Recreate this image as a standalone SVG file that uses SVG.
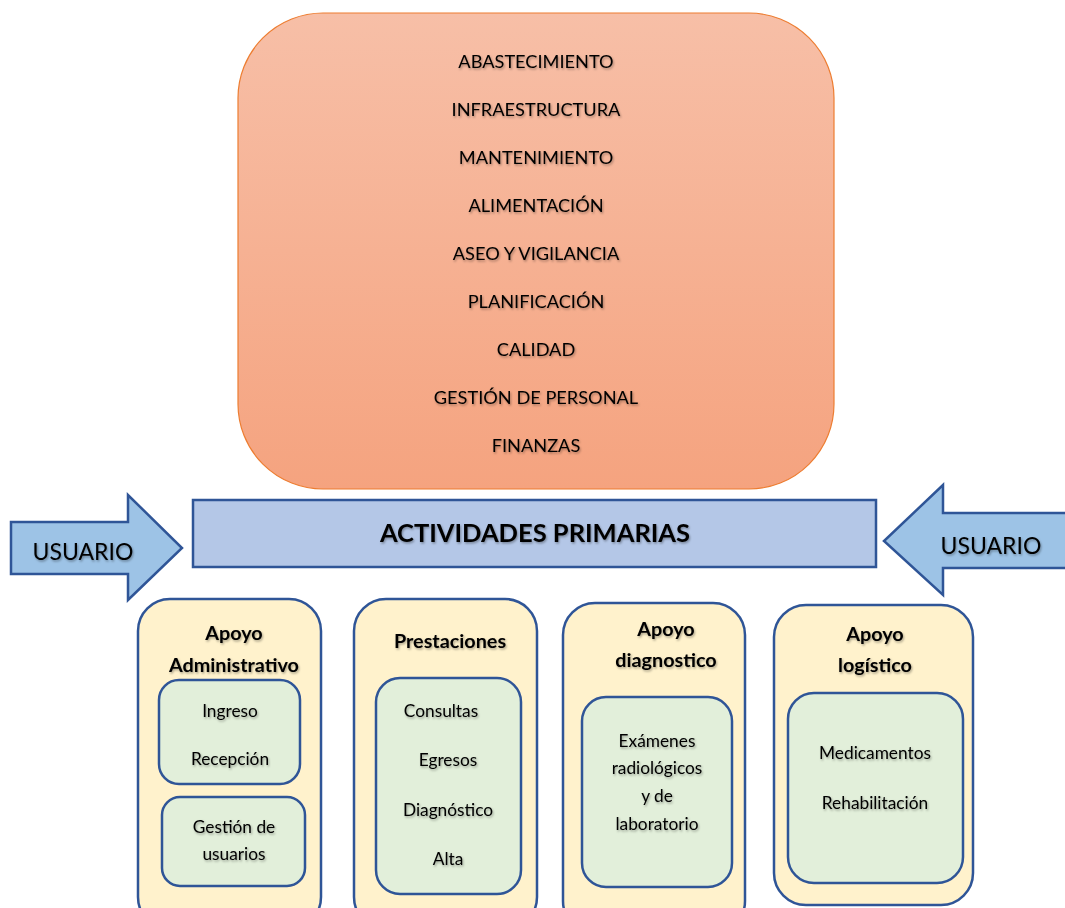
<svg xmlns="http://www.w3.org/2000/svg" width="1065" height="908" viewBox="0 0 1065 908">
<defs>
  <linearGradient id="gTop" x1="0" y1="0" x2="0" y2="1">
    <stop offset="0" stop-color="#f7bfa7"/>
    <stop offset="1" stop-color="#f5a37f"/>
  </linearGradient>
  <filter id="sh" x="-10%" y="-30%" width="120%" height="160%">
    <feDropShadow dx="1" dy="1.5" stdDeviation="0.8" flood-color="#000" flood-opacity="0.35"/>
  </filter>
</defs>
<style>
  text { font-family: Lato, "Liberation Sans", sans-serif; fill: #000; text-anchor: middle; dominant-baseline: central; filter: url(#sh); }
  .top { font-size: 18.2px; }
  .hdr { font-size: 19.8px; font-weight: bold; }
  .it { font-size: 17.3px; }
  .usr { font-size: 23px; }
  .outer { fill: #fff2cc; stroke: #2f5597; stroke-width: 2.5; }
  .inner { fill: #e2efda; stroke: #2f5597; stroke-width: 2.5; }
  .arrow { fill: #9dc3e6; stroke: #2f5597; stroke-width: 2.5; stroke-linejoin: miter; }
</style>

<g id="support-activities">
  <rect x="238" y="13" width="596" height="476" rx="85" ry="85" fill="url(#gTop)" stroke="#ed7d31" stroke-width="1.2"/>
  <text class="top" x="536" y="61">ABASTECIMIENTO</text>
  <text class="top" x="536" y="109">INFRAESTRUCTURA</text>
  <text class="top" x="536" y="157">MANTENIMIENTO</text>
  <text class="top" x="536" y="205">ALIMENTACIÓN</text>
  <text class="top" x="536" y="253">ASEO Y VIGILANCIA</text>
  <text class="top" x="536" y="301">PLANIFICACIÓN</text>
  <text class="top" x="536" y="349">CALIDAD</text>
  <text class="top" x="536" y="397">GESTIÓN DE PERSONAL</text>
  <text class="top" x="536" y="445">FINANZAS</text>
</g>

<g id="primary">
  <rect x="193" y="500" width="683" height="67" fill="#b4c7e7" stroke="#2f5597" stroke-width="2.5"/>
  <text x="535" y="532" font-size="25.5" font-weight="bold">ACTIVIDADES PRIMARIAS</text>
</g>

<g id="connectors">
  <g id="arrow-left">
    <polygon class="arrow" points="11,522 128,522 128,495 182,548 128,600 128,574 11,574"/>
    <text class="usr" x="83" y="551">USUARIO</text>
  </g>
  <g id="arrow-right">
    <polygon class="arrow" points="1070,513 943,513 943,485 884,541 943,595 943,568 1070,568"/>
    <text class="usr" x="991" y="545">USUARIO</text>
  </g>
</g>

<g id="apoyo-administrativo">
  <rect class="outer" x="138" y="599" width="183" height="330" rx="32"/>
  <text class="hdr" x="234" y="632">Apoyo</text>
  <text class="hdr" x="234" y="664">Administrativo</text>
  <rect class="inner" x="159" y="680" width="141" height="104" rx="20"/>
  <text class="it" x="230" y="710">Ingreso</text>
  <text class="it" x="230" y="758">Recepción</text>
  <rect class="inner" x="162" y="797" width="143" height="89" rx="18"/>
  <text class="it" x="234" y="826">Gestión de</text>
  <text class="it" x="234" y="853">usuarios</text>
</g>

<g id="prestaciones">
  <rect class="outer" x="354" y="599" width="183" height="330" rx="32"/>
  <text class="hdr" x="450" y="640">Prestaciones</text>
  <rect class="inner" x="376" y="678" width="145" height="216" rx="24"/>
  <text class="it" x="441" y="710">Consultas</text>
  <text class="it" x="448" y="759">Egresos</text>
  <text class="it" x="448" y="809">Diagnóstico</text>
  <text class="it" x="448" y="858">Alta</text>
</g>

<g id="apoyo-diagnostico">
  <rect class="outer" x="563" y="603" width="182" height="330" rx="32"/>
  <text class="hdr" x="666" y="628">Apoyo</text>
  <text class="hdr" x="666" y="659">diagnostico</text>
  <rect class="inner" x="582" y="697" width="150" height="190" rx="24"/>
  <text class="it" x="657" y="740">Exámenes</text>
  <text class="it" x="657" y="767">radiológicos</text>
  <text class="it" x="657" y="795">y de</text>
  <text class="it" x="657" y="823">laboratorio</text>
</g>

<g id="apoyo-logistico">
  <rect class="outer" x="774" y="605" width="199" height="300" rx="32"/>
  <text class="hdr" x="875" y="633">Apoyo</text>
  <text class="hdr" x="875" y="664">logístico</text>
  <rect class="inner" x="788" y="693" width="175" height="190" rx="26"/>
  <text class="it" x="875" y="752">Medicamentos</text>
  <text class="it" x="875" y="802">Rehabilitación</text>
</g>
</svg>
